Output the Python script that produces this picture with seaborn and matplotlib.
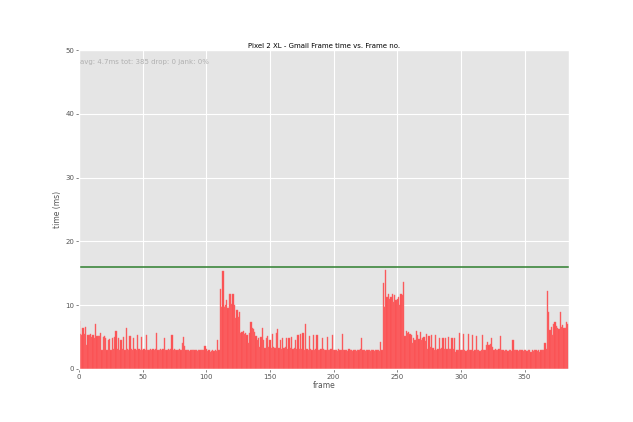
import numpy as np
import pandas as pd
import matplotlib
matplotlib.use('Agg')
import matplotlib.pyplot as plt
import seaborn as sns

# Configure plots
plt.style.use('ggplot')

# Chart data
title = 'Pixel 2 XL - Gmail Frame time vs. Frame no.'
stats_text = 'avg: 4.7ms tot: 385 drop: 0 jank: 0%'
jank_threshold_ms = 16
y_ticks = [0, 10, 20, 30, 40, 50]
x_ticks = [0, 50, 100, 150, 200, 250, 300, 350]

frame_time_ms = [
    7.6, 5.5, 5.3, 6.4, 5.5, 6.6, 3.8, 5.3, 5.4, 5.5, 5.0, 5.3, 4.9, 7.0, 5.2, 5.1, 5.2, 5.6, 3.0, 5.0, 5.1, 4.8, 3.0, 4.6, 4.7,
    3.0, 4.8, 3.2, 5.0, 6.0, 3.1, 4.9, 3.0, 4.5, 3.1, 5.0, 3.0, 6.5, 3.2, 3.0, 5.2, 3.1, 3.0, 4.8, 3.2, 3.0, 5.3, 3.1, 3.0, 5.0,
    3.0, 3.1, 3.0, 5.3, 2.9, 3.0, 3.1, 3.0, 3.2, 3.0, 3.1, 5.6, 3.0, 2.9, 3.1, 3.0, 3.2, 4.9, 3.0, 3.0, 3.1, 3.0, 3.2, 5.3, 3.0,
    3.1, 3.0, 2.9, 3.0, 3.1, 2.9, 4.1, 5.0, 3.6, 3.0, 2.9, 3.0, 2.8, 3.0, 2.9, 3.0, 3.0, 2.9, 2.8, 3.0, 3.0, 2.9, 3.0, 3.0, 3.6,
    3.2, 2.8, 2.9, 2.7, 2.8, 2.9, 2.8, 2.9, 2.8, 4.5, 3.0, 12.5, 9.7, 15.3, 9.7, 10.0, 10.8, 9.5, 11.8, 11.8, 10.2, 11.8, 10.0, 8.0, 9.2,
    8.1, 9.0, 5.6, 5.8, 6.0, 5.5, 5.7, 5.4, 4.0, 5.6, 7.3, 6.4, 6.2, 5.8, 5.2, 4.6, 4.8, 3.5, 5.0, 6.4, 4.5, 3.3, 4.9, 5.1, 3.4,
    4.6, 3.3, 5.5, 3.4, 3.3, 5.6, 6.2, 3.3, 4.5, 3.2, 4.9, 3.3, 3.4, 4.9, 3.2, 4.8, 3.3, 5.0, 3.2, 3.3, 4.5, 3.2, 5.3, 3.2, 5.5,
    3.1, 5.7, 3.0, 7.0, 3.1, 3.0, 5.2, 3.1, 2.9, 5.3, 3.0, 3.1, 5.3, 2.9, 3.0, 3.1, 4.9, 3.2, 2.9, 3.0, 5.0, 3.0, 2.9, 3.1, 5.3,
    3.0, 2.9, 3.0, 2.8, 3.1, 3.0, 2.9, 5.5, 3.0, 2.9, 3.0, 2.8, 3.1, 2.9, 3.0, 2.8, 2.9, 3.0, 2.8, 2.9, 3.0, 3.1, 4.8, 3.0, 2.9,
    2.8, 3.0, 2.9, 3.0, 2.8, 2.9, 3.0, 2.8, 2.9, 3.0, 2.9, 2.8, 4.3, 2.9, 13.5, 9.7, 15.5, 11.3, 11.8, 11.0, 11.3, 11.8, 10.5, 11.6, 10.8,
    11.0, 11.3, 10.0, 11.8, 11.6, 13.6, 5.2, 6.0, 5.7, 5.8, 5.5, 5.4, 4.0, 4.8, 4.6, 6.0, 5.3, 4.7, 5.8, 4.5, 4.8, 5.0, 4.4, 5.5, 3.2,
    5.2, 3.4, 5.3, 3.3, 3.0, 5.3, 3.0, 3.2, 4.9, 3.1, 3.3, 4.9, 3.2, 4.9, 3.1, 5.0, 3.2, 3.1, 4.9, 3.2, 4.8, 2.7, 3.0, 2.9, 5.6,
    3.0, 2.9, 5.5, 3.0, 2.8, 2.9, 5.5, 3.0, 2.9, 5.4, 2.8, 3.0, 5.2, 2.9, 3.0, 2.8, 3.0, 5.4, 2.9, 3.0, 3.7, 4.3, 3.8, 3.9, 4.9,
    3.4, 3.0, 3.1, 2.9, 3.0, 3.1, 5.2, 3.0, 2.9, 2.8, 2.9, 3.0, 2.8, 2.9, 3.0, 2.8, 4.6, 3.0, 2.9, 3.0, 2.8, 2.9, 3.0, 2.9, 2.8,
    3.0, 2.9, 2.8, 3.0, 2.9, 2.7, 2.9, 2.8, 3.0, 2.9, 2.8, 2.9, 2.7, 2.9, 3.0, 2.9, 4.0, 3.2, 12.3, 9.0, 6.1, 6.6, 5.3, 7.1, 7.4,
    6.8, 6.4, 6.2, 9.0, 6.6, 6.9, 6.4, 6.5, 7.4, 7.0,
]

data = pd.DataFrame({'frame': np.arange(len(frame_time_ms)), 'time': frame_time_ms})

fig, ax = plt.subplots(figsize=(6.33, 4.22), dpi=100)
fig.subplots_adjust(left=0.125, right=0.899, top=0.8815, bottom=0.1256)

# bars: one per frame, height = frame time
sns.histplot(data=data, x='frame', weights='time', discrete=True,
             color='#fa4e50', alpha=1, edgecolor='#fb6a6c', linewidth=0.3, ax=ax)
ax.axhline(jank_threshold_ms, color='#2f7f2f', linewidth=1.1)

ax.set_xlim(0, len(frame_time_ms))
ax.set_ylim(0, 50)
ax.set_xticks(x_ticks)
ax.set_yticks(y_ticks)
ax.tick_params(labelsize=5, length=2, width=0.5, pad=1.5, colors='#555555')
ax.set_xlabel('frame', fontsize=5.5, color='#555555', labelpad=1)
ax.set_ylabel('time (ms)', fontsize=5.5, color='#555555', labelpad=2)
ax.set_title(title, fontsize=5, color='black', pad=1.5)
ax.text(1, 48.1, stats_text, fontsize=5, color='#b0b0b0', va='center', ha='left')

plt.savefig('out.png', dpi=100)
